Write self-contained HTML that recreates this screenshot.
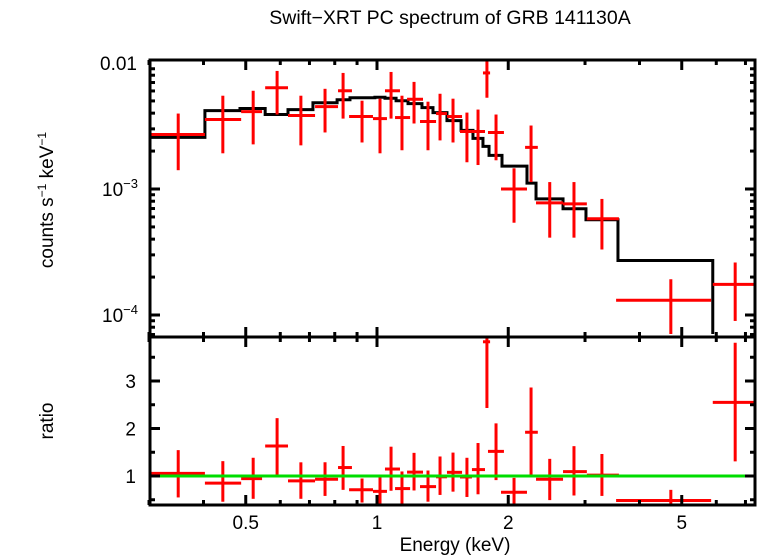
<!DOCTYPE html>
<html><head><meta charset="utf-8"><style>
html,body{margin:0;padding:0;background:#fff;}
svg{display:block;font-family:"Liberation Sans",sans-serif;}
</style></head><body>
<svg id="chart" width="758" height="556" viewBox="0 0 758 556" xmlns="http://www.w3.org/2000/svg">
<defs>
<clipPath id="clipTop"><rect x="150" y="60" width="605" height="274"/></clipPath>
<clipPath id="clipBot"><rect x="150" y="337" width="605" height="168"/></clipPath>
</defs>
<text x="450" y="24" font-size="19.5" text-anchor="middle">Swift−XRT PC spectrum of GRB 141130A</text>
<text transform="translate(53,200) rotate(-90)" font-size="19" text-anchor="middle">counts s<tspan font-size="12" dy="-7">−1</tspan><tspan dy="7"> keV</tspan><tspan font-size="12" dy="-7">−1</tspan></text>
<text transform="translate(53,421) rotate(-90)" font-size="19" text-anchor="middle">ratio</text>
<text x="455" y="551" font-size="19" text-anchor="middle">Energy (keV)</text>
<g id="gTop" clip-path="url(#clipTop)"></g>
<g id="gBot" clip-path="url(#clipBot)"></g>
<g id="gAxes"></g>
</svg>
<script>
// Energy bins (keV) and data (counts s^-1 keV^-1, in units of 1e-3)
const eLo  = [0.302,0.403,0.488,0.554,0.625,0.721,0.814,0.863,0.979,1.043,1.100,1.172,1.255,1.366,1.447,1.550,1.651,1.750,1.797,1.925,2.186,2.316,2.671,3.029,3.535,5.89];
const eHi  = [0.403,0.488,0.545,0.625,0.721,0.814,0.876,0.979,1.054,1.129,1.191,1.275,1.366,1.447,1.567,1.651,1.769,1.817,1.955,2.208,2.338,2.671,3.029,3.588,5.84,7.44];
const eMid = [0.350,0.443,0.520,0.590,0.669,0.760,0.836,0.924,1.016,1.077,1.141,1.216,1.309,1.395,1.494,1.608,1.705,1.787,1.875,2.062,2.256,2.49,2.83,3.28,4.72,6.63];
const flux = [2.71,3.56,4.11,6.36,3.83,4.51,6.02,3.76,3.62,6.02,3.69,5.15,3.43,3.97,3.76,2.86,2.86,8.34,2.81,1.0,2.14,0.776,0.762,0.581,0.131,0.175];
const fHi  = [3.97,5.50,6.02,8.65,5.50,6.24,8.34,5.02,5.21,8.49,5.50,7.08,4.93,5.70,5.21,4.04,4.27,11.35,3.90,1.46,3.19,1.135,1.135,0.834,0.192,0.261];
const fLo  = [1.41,1.92,2.26,3.90,2.22,2.81,3.62,2.34,1.92,3.62,2.03,3.31,2.03,2.43,2.34,1.63,1.55,5.30,1.69,0.54,1.135,0.411,0.411,0.331,0.05,0.0897];
// Model step function
const mEdges = [0.302,0.403,0.485,0.554,0.625,0.713,0.810,0.867,0.989,1.043,1.106,1.178,1.268,1.344,1.447,1.559,1.660,1.750,1.807,1.935,2.208,2.316,2.671,3.015,3.570,5.89,7.44];
const mVals  = [2.57,4.19,4.35,3.90,4.27,4.84,5.11,5.30,5.35,5.25,5.02,4.76,4.42,4.04,3.49,2.92,2.52,2.18,1.85,1.52,1.114,0.834,0.697,0.570,0.271,0.0686];
const xTicksMajor = [0.5,1,2,5];
const xTickLabels = ["0.5","1","2","5"];
const xTicksMinor = [0.3,0.4,0.6,0.7,0.8,0.9,3,4,6,7];
const ratioTicks = [1,2,3];

const NS="http://www.w3.org/2000/svg";
const X0=150,X1=755,TT=60,TB=337,BT=337,BB=505;
function xS(e){return 377+436*Math.log10(e);}
function yS(v){return 63+126*(-Math.log10(v*1e-3)-2);}
function rS(r){return 476-47.5*(r-1);}
function mk(parent,tag,attrs){const el=document.createElementNS(NS,tag);for(const k in attrs)el.setAttribute(k,attrs[k]);parent.appendChild(el);return el;}
function modelAt(e){for(let i=0;i<mVals.length;i++){if(e>=mEdges[i]&&e<mEdges[i+1])return mVals[i];}return mVals[mVals.length-1];}
const gTop=document.getElementById('gTop'),gBot=document.getElementById('gBot'),gAx=document.getElementById('gAxes');

let d="";
for(let i=0;i<mVals.length;i++){
  const y=yS(mVals[i]);
  d+=(i===0?"M":"L")+xS(mEdges[i])+","+y+"L"+xS(mEdges[i+1])+","+y;
}
const mp=mk(gTop,'path',{d:d,fill:'none',stroke:'#000','stroke-width':3});



for(let i=0;i<flux.length;i++){
  const g=mk(gTop,'g',{stroke:'#f00','stroke-width':3});
  
  
  mk(g,'line',{x1:xS(eLo[i]),x2:xS(eHi[i]),y1:yS(flux[i]),y2:yS(flux[i])});
  mk(g,'line',{x1:xS(eMid[i]),x2:xS(eMid[i]),y1:yS(fHi[i]),y2:yS(fLo[i])});
  const m=modelAt(eMid[i]);
  const g2=mk(gBot,'g',{stroke:'#f00','stroke-width':3});
  
  
  mk(g2,'line',{x1:xS(eLo[i]),x2:xS(eHi[i]),y1:rS(flux[i]/m),y2:rS(flux[i]/m)});
  mk(g2,'line',{x1:xS(eMid[i]),x2:xS(eMid[i]),y1:rS(fHi[i]/m),y2:rS(fLo[i]/m)});
}
const gl=mk(gBot,'line',{x1:X0,x2:X1,y1:rS(1),y2:rS(1),stroke:'#0d0','stroke-width':3});



const f1=mk(gAx,'rect',{x:X0,y:TT,width:X1-X0,height:TB-TT,fill:'none',stroke:'#000','stroke-width':3});


const f2=mk(gAx,'rect',{x:X0,y:BT,width:X1-X0,height:BB-BT,fill:'none',stroke:'#000','stroke-width':3});



function xtick(e,len){
  const x=xS(e);
  [[TT,1],[TB,-1],[BT,1],[BB,-1]].forEach(([y,s])=>{
    const t=mk(gAx,'line',{x1:x,x2:x,y1:y,y2:y+s*len,stroke:'#000','stroke-width':3});
    
    
  });
}
xTicksMajor.forEach(e=>xtick(e,10));
xTicksMinor.forEach(e=>xtick(e,5));
xTicksMajor.forEach((e,i)=>{
  const t=mk(gAx,'text',{x:xS(e),y:529,'font-size':19,'text-anchor':'middle'});
  t.textContent=xTickLabels[i];
  
  
});
for(let dec=-5;dec<=-3;dec++){
  for(let k=1;k<=9;k++){
    const v=k*Math.pow(10,dec)*1e3;
    const y=yS(v);
    if(y<TT-1||y>TB)continue;
    const len=k===1?10:5;
    [[X0,1],[X1,-1]].forEach(([x,s])=>{
      const t=mk(gAx,'line',{x1:x,x2:x+s*len,y1:y,y2:y,stroke:'#000','stroke-width':3});
      
      
    });
  }
}
[[10,"0.01",null],[1,"10","−3"],[0.1,"10","−4"]].forEach(([v,b,sup])=>{
  const t=mk(gAx,'text',{x:137,y:yS(v)+7,'font-size':19,'text-anchor':'end'});
  
  
  if(sup){t.innerHTML=b+'<tspan font-size="13" dy="-8">'+sup+'</tspan>';t.setAttribute('x',102);t.setAttribute('text-anchor','start');}
  else t.textContent=b;
});
ratioTicks.forEach(r=>{
  const y=rS(r);
  [[X0,1],[X1,-1]].forEach(([x,s])=>{
    const t=mk(gAx,'line',{x1:x,x2:x+s*10,y1:y,y2:y,stroke:'#000','stroke-width':3});
    
    
  });
  const t=mk(gAx,'text',{x:136,y:y+7,'font-size':19,'text-anchor':'end'});
  t.textContent=String(r);
  
  
});
for(let r=0.5;r<3.95;r+=0.5){
  if(Number.isInteger(r))continue;
  const y=rS(r);
  [[X0,1],[X1,-1]].forEach(([x,s])=>{
    const t=mk(gAx,'line',{x1:x,x2:x+s*5,y1:y,y2:y,stroke:'#000','stroke-width':3});
    
    
  });
}
</script>
</body></html>
